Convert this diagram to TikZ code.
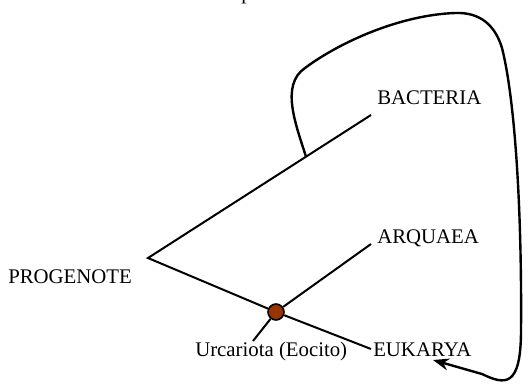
\documentclass[tikz,border=0pt]{standalone}
\usepackage{fontspec}
\setmainfont{Liberation Serif}
\usepackage{xcolor}
\definecolor{urcbrown}{RGB}{153,51,0}
\usetikzlibrary{arrows.meta}

\begin{document}
\begin{tikzpicture}[x=0.75pt,y=-0.75pt,>={Stealth[length=12pt,width=9pt]},
  lbl/.style={anchor=base west,inner sep=0pt,font=\fontsize{15.6}{18}\selectfont},
  branch/.style={line width=1.5pt},
  lgt/.style={line width=1.8pt,->}]
\useasboundingbox (0,0) rectangle (532,383);
\node[lbl] (title) at (241,-0.5) {p};
\coordinate (root) at (148,258);
\coordinate (bact) at (371,115);
\coordinate (arq) at (371,244);
\coordinate (euk) at (371,349);
\coordinate (tick) at (253,341);
\coordinate (gene) at (306,156.7);
\coordinate (arrowend) at (433,360);
\node[lbl] (bacteria) at (377,104) {BACTERIA};
\node[lbl] (arquaea) at (377,243) {ARQUAEA};
\node[lbl] (eukarya) at (373,356) {EUKARYA};
\node[lbl] (progenote) at (8,283) {PROGENOTE};
\node[lbl] (eocito) at (195,356) {Urcariota (Eocito)};
\node[circle,draw,fill=urcbrown,line width=1.2pt,minimum size=12pt,inner sep=0pt] (urc) at (276,312) {};
\draw[branch](bact)--(root)--(urc);
\draw[branch](urc)--(euk);
\draw[branch](urc)--(arq);
\draw[branch](urc)--(tick);
\draw[lgt](gene) .. controls (296,125) and (280,85) .. (305,68)
  .. controls (340,42) and (400,15) .. (455,13)
  .. controls (480,12) and (495,25) .. (502,48)
  .. controls (514,95) and (522,200) .. (521,330)
  .. controls (521,388) and (505,385) .. (482,374)
  -- (arrowend);
\end{tikzpicture}
\end{document}
